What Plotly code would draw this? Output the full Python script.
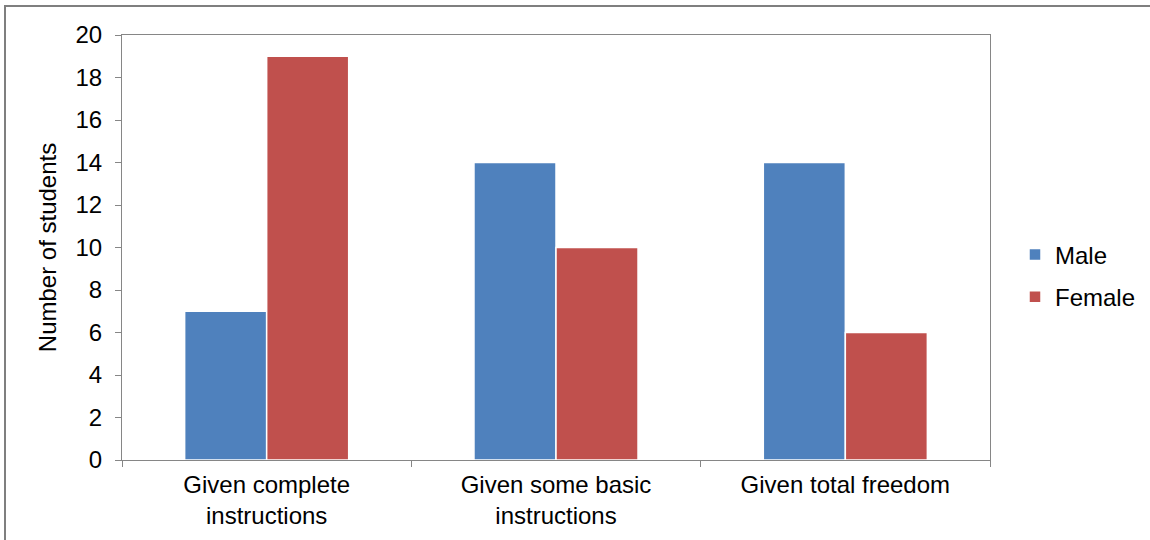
import plotly.graph_objects as go

categories = ["Given complete<br>instructions", "Given some basic<br>instructions", "Given total freedom"]
male = [7, 14, 14]
female = [19, 10, 6]
y_ticks = list(range(0, 21, 2))

W, H = 1150, 540
L, R, T, B = 122, 160, 35, 80
plot_w = W - L - R
plot_h = H - T - B

FONT = "Liberation Sans, Arial, sans-serif"
FS = 24
AXIS_GREY = "#868686"

fig = go.Figure()
fig.add_trace(go.Bar(
    name="Male", x=categories, y=male,
    marker=dict(color="#4F81BD", line=dict(color="white", width=1.5)),
    legendgroup="m",
))
fig.add_trace(go.Bar(
    name="Female", x=categories, y=female,
    marker=dict(color="#C0504D", line=dict(color="white", width=1.5)),
    legendgroup="f",
))

# outer chart frame
fig.add_shape(
    type="rect", xref="paper", yref="paper",
    x0=(5 - L) / plot_w, x1=(W + 20 - L) / plot_w,
    y0=(H - B - 6) / plot_h, y1=(H - B - (H + 20)) / plot_h,
    line=dict(color="#7f7f7f", width=2), fillcolor="rgba(0,0,0,0)",
    layer="below",
)

fig.update_layout(
    width=W, height=H,
    margin=dict(l=L, r=R, t=T, b=B, autoexpand=False),
    paper_bgcolor="white", plot_bgcolor="white",
    font=dict(family=FONT, size=FS, color="black"),
    barmode="group", bargap=0.433, bargroupgap=0,
    showlegend=True,
    legend=dict(
        x=(1015 - L) / plot_w, xanchor="left",
        y=(H - B - 276) / plot_h, yanchor="middle",
        font=dict(family=FONT, size=FS, color="black"),
        tracegroupgap=8, traceorder="grouped",
        bgcolor="rgba(0,0,0,0)", itemwidth=30,
    ),
    xaxis=dict(
        type="category", range=[-0.5, 2.5],
        tickson="boundaries", ticks="outside", ticklen=6, tickcolor=AXIS_GREY,
        showline=True, linecolor=AXIS_GREY, linewidth=1, mirror=True,
        showgrid=False, tickfont=dict(family=FONT, size=FS),
        ticklabelstandoff=3,
    ),
    yaxis=dict(
        range=[0, 20], tickvals=y_ticks, ticks="outside", ticklen=6, tickcolor=AXIS_GREY,
        showline=True, linecolor=AXIS_GREY, linewidth=1, mirror=True,
        showgrid=False, zeroline=False, tickfont=dict(family=FONT, size=FS),
        ticklabelstandoff=8,
        title=dict(text="Number of students", font=dict(family=FONT, size=FS), standoff=12),
    ),
)

fig.write_html("out.html")
